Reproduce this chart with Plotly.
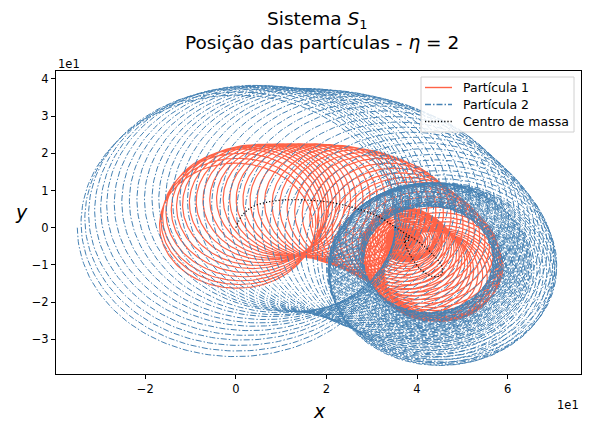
import numpy as np
import plotly.graph_objects as go

# ---- data (units: raw, axis shows x1e1) ----
# key frames along the motion, indexed by number of revolutions
loop_n = [0, 3, 6, 9, 12, 15, 18, 21, 24, 27, 30, 33, 36, 39, 42, 45, 49, 53, 57, 61, 65, 69, 74, 79, 85]
com_x = [0, 1.5, 4, 7.5, 11.5, 16, 21, 26.5, 31.5, 36, 40, 43.5, 45.5, 45.3, 43.5, 41, 38.9, 37.6, 37.2, 37.8, 38.2, 37.6, 37.3, 37.6, 37.7]
com_y = [0, 3.5, 5.8, 7, 7.5, 7.4, 6.8, 5.2, 3, -0.5, -3.5, -7.2, -10.5, -12.7, -13.1, -11.4, -8.2, -5.1, -3, -2.2, -3.2, -3.8, -3.3, -3.5, -3.6]
# loop radius of each particle
rho_1 = [17, 17.5, 16.5, 15.5, 15, 15.2, 15.5, 16, 16, 15.5, 15, 14.5, 13.5, 12.5, 12, 11.5, 11, 10, 8.5, 6.8, 5.2, 3.8, 2.5, 1.4, 0.4]
rho_2 = [35, 34, 32.5, 31, 30, 30, 30, 30, 29.5, 28.5, 27.5, 26.5, 25.5, 24.5, 23.5, 22.5, 21.5, 20.5, 19.5, 18.5, 17.5, 16.5, 15.5, 14.8, 14.2]
# shift of the loop centre of particle 2 from the centre of mass
off_2x = [0] * 13 + [0, 0.5, 2, 3.9, 5, 5.3, 4.7, 4.3, 4.9, 5.2, 4.9, 4.8]
off_2y = [0] * 13 + [0, 1.6, 0.9, -1.3, -3.9, -5.5, -6.3, -5.3, -4.7, -5.2, -5, -4.9]

x_tickvals = [-20, 0, 20, 40, 60]
x_ticktext = ["\u22122", "0", "2", "4", "6"]
y_tickvals = [-30, -20, -10, 0, 10, 20, 30, 40]
y_ticktext = ["\u22123", "\u22122", "\u22121", "0", "1", "2", "3", "4"]

legend_labels = ["Partícula 1", "Partícula 2", "Centro de massa"]
colors = ["#FF6347", "#4682B4", "black"]
dashes = ["solid", "6px,2px,1.5px,2px", "1.2px,2px"]
widths = [1.2, 1, 1.2]

# ---- build trajectories from the key frames ----
n = np.linspace(loop_n[0], loop_n[-1], 180 * (loop_n[-1] - loop_n[0]) + 1)
cx = np.interp(n, loop_n, com_x)
cy = np.interp(n, loop_n, com_y)
r1 = np.interp(n, loop_n, rho_1)
r2 = np.interp(n, loop_n, rho_2)
o2x = np.interp(n, loop_n, off_2x)
o2y = np.interp(n, loop_n, off_2y)
th = 2 * np.pi * n
p1x, p1y = cx + r1 * np.cos(th), cy + r1 * np.sin(th)
p2x, p2y = cx + o2x - r2 * np.cos(th), cy + o2y - r2 * np.sin(th)

fig = go.Figure()
fig.add_trace(go.Scatter(x=p1x, y=p1y, mode="lines", name=legend_labels[0],
                         line=dict(color=colors[0], width=widths[0], dash=dashes[0])))
fig.add_trace(go.Scatter(x=p2x, y=p2y, mode="lines", name=legend_labels[1],
                         line=dict(color=colors[1], width=widths[1], dash=dashes[1])))
fig.add_trace(go.Scatter(x=com_x, y=com_y, mode="lines", name=legend_labels[2],
                         line=dict(color=colors[2], width=widths[2], dash=dashes[2], shape="spline")))

L, R, T, B = 56, 581, 71, 374
W, H = 593, 423
pw, ph = R - L, B - T

def px(x):
    return (x - L) / pw

def py(y):
    return (B - y) / ph

font = "DejaVu Sans, Liberation Sans, sans-serif"
ann = [
    dict(text="Sistema <i>S</i><sub>1</sub>", x=px(W / 2 + 20), y=py(20), font=dict(size=18.5)),
    dict(text="Posição das partículas - <i>η</i> = 2", x=px(W / 2 + 25), y=py(42), font=dict(size=18.5)),
    dict(text="<i>x</i>", x=px(319), y=py(411), font=dict(size=19)),
    dict(text="<i>y</i>", x=px(21), y=py(212), font=dict(size=19)),
    dict(text="1e1", x=0, y=py(64), xanchor="left", font=dict(size=11.5)),
    dict(text="1e1", x=1, y=py(405), xanchor="right", font=dict(size=11.5)),
]
# manual legend (matplotlib-like spacing)
leg_rows = [87.5, 104.5, 121.5]
for lab, yy in zip(legend_labels, leg_rows):
    ann.append(dict(text=lab, x=px(461), y=py(yy), xanchor="left", font=dict(size=12.5)))

annotations = []
for a in ann:
    d = dict(xref="paper", yref="paper", showarrow=False, yanchor="middle",
             xanchor=a.get("xanchor", "center"))
    d.update(a)
    d["font"] = dict(family=font, color="black", **a["font"])
    annotations.append(d)

shapes = [dict(type="rect", xref="paper", yref="paper",
               x0=px(421), x1=px(574), y0=py(77), y1=py(132),
               line=dict(color="#d0d0d0", width=1), fillcolor="rgba(255,255,255,0.85)",
               layer="above")]
for c, dsh, w, yy in zip(colors, dashes, [1.4, 1.4, 1.4], leg_rows):
    shapes.append(dict(type="line", xref="paper", yref="paper",
                       x0=px(425), x1=px(452), y0=py(yy), y1=py(yy),
                       line=dict(color=c, width=w, dash=dsh), layer="above"))

axis_common = dict(showgrid=False, zeroline=False, showline=True, linecolor="black",
                   linewidth=1, mirror=True, ticks="outside", ticklen=4, tickwidth=1,
                   tickcolor="black", tickfont=dict(family=font, size=11.5, color="black"))

fig.update_layout(
    width=W, height=H,
    margin=dict(l=L, r=W - R, t=T, b=H - B),
    paper_bgcolor="white", plot_bgcolor="white",
    showlegend=False,
    xaxis=dict(range=[-39.7, 76.2], tickvals=x_tickvals, ticktext=x_ticktext, **axis_common),
    yaxis=dict(range=[-39.3, 42.1], tickvals=y_tickvals, ticktext=y_ticktext, **axis_common),
    annotations=annotations,
    shapes=shapes,
)

fig.write_html("out.html")
